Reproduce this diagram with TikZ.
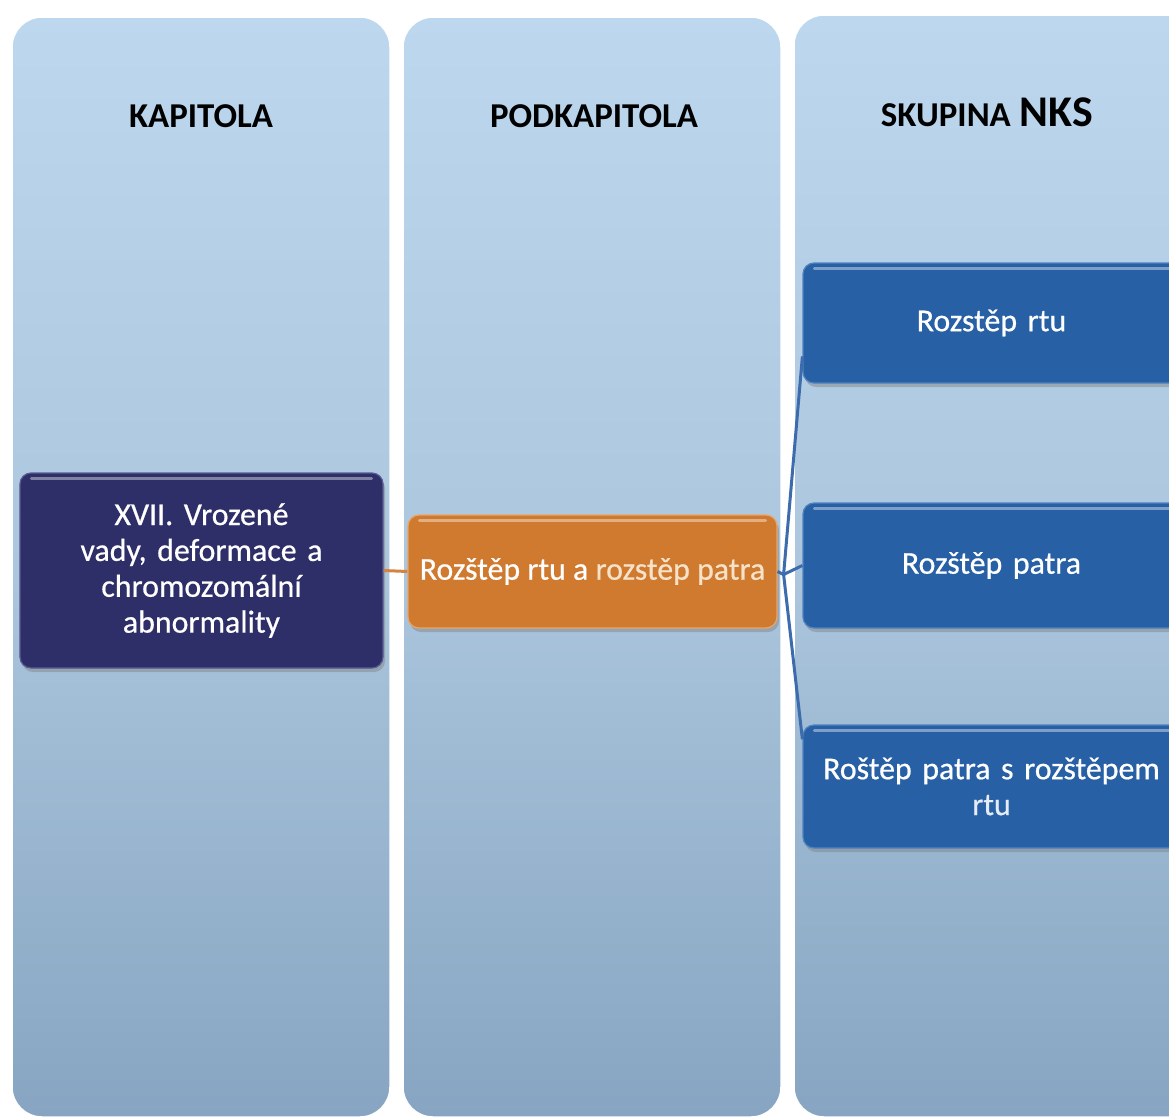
\documentclass[tikz,border=0pt]{standalone}
\usepackage{fontspec}
\setmainfont{Carlito}
\usetikzlibrary{shadows}

\definecolor{colTop}{HTML}{BDD8EE}
\definecolor{colMid}{HTML}{ABC6DD}
\definecolor{colBot}{HTML}{87A5C2}
\definecolor{navyBox}{HTML}{2E2E68}
\definecolor{navyRim}{HTML}{5A5B92}
\definecolor{orangeBox}{HTML}{D07A30}
\definecolor{orangeRim}{HTML}{E8A66A}
\definecolor{blueBox}{HTML}{2860A6}
\definecolor{blueRim}{HTML}{4F82C2}
\definecolor{blueLink}{HTML}{3D6CAC}
\definecolor{orangeLink}{HTML}{D4843E}
\definecolor{creamText}{HTML}{F6E2C8}

\tikzset{
  column/.style={rounded corners=30bp, top color=colTop, bottom color=colBot,
    middle color=colMid, draw=white, line width=1.5bp},
  head/.style={font=\fontsize{35}{38}\selectfont\bfseries, text=black},
  card/.style={rounded corners=11bp, text=white, align=center,
    font=\fontsize{32}{36}\selectfont\addfontfeature{FakeBold=0.6}, line width=1.2bp,
    drop shadow={shadow xshift=2bp, shadow yshift=-4bp, opacity=0.45}},
  navycard/.style={card, fill=navyBox, draw=navyRim},
  orangecard/.style={card, fill=orangeBox, draw=orangeRim},
  bluecard/.style={card, fill=blueBox, draw=blueRim},
  gloss/.style={line width=3bp, line cap=round, white, opacity=0.4},
  olink/.style={orangeLink, line width=3bp},
  blink/.style={blueLink, line width=3bp}
}

\begin{document}
\begin{tikzpicture}[x=1bp, y=-1bp]
  \useasboundingbox (0,0) rectangle (1169,1117);
  \fill[white] (0,0) rectangle (1169,1117);
  \clip (0,0) rectangle (1169,1117);

  % three background columns
  \path[column] (12,17) rectangle (390,1117);
  \path[column] (403,17) rectangle (781,1117);
  \path[column] (794,15) rectangle (1200,1117);

  % column headings
  \node[head] (h1) at (201,116) {KAPITOLA};
  \node[head] (h2) at (594,116) {PODKAPITOLA};
  \node[head] (h3) at (987,112)
    {SKUPINA\hspace{9bp}{\fontsize{44}{46}\selectfont NKS}};

  % chapter
  \node[navycard, minimum width=363bp, minimum height=195bp, text width=340bp]
    (chap) at (201.5,570.5) {XVII. Vrozené\\vady, deformace a\\chromozomální\\abnormality};

  % subchapter
  \node[orangecard, minimum width=369bp, minimum height=113bp, inner xsep=2bp]
    (sub) at (592.5,571.5) {Rozštěp rtu a \textcolor{creamText}{rozstěp patra}};

  % groups
  \node[bluecard, minimum width=377bp, minimum height=120bp, text width=350bp]
    (g1) at (991.5,323) {Rozstěp rtu};
  \node[bluecard, minimum width=377bp, minimum height=125bp, text width=350bp]
    (g2) at (991.5,565.5) {Rozštěp patra};
  \node[bluecard, minimum width=377bp, minimum height=123bp, text width=370bp]
    (g3) at (991.5,786.5) {Roštěp patra s rozštěpem\\\textcolor{white!88!blueBox}{rtu}};

  % glossy top edges
  \foreach \n in {chap, sub, g1, g2, g3}{
    \draw[gloss] ([xshift=12bp, yshift=-6bp]\n.north west) -- ([xshift=-12bp, yshift=-6bp]\n.north east);
  }

  % connectors
  \draw[olink] (chap.east) -- (sub.west);
  \coordinate (fork) at ([xshift=6bp, yshift=-3bp]sub.east);
  \draw[blink] (sub.east) -- (fork) -- (g1.190);
  \draw[blink] (fork) -- (g2.west);
  \draw[blink] (fork) -- (g3.166);
\end{tikzpicture}
\end{document}
